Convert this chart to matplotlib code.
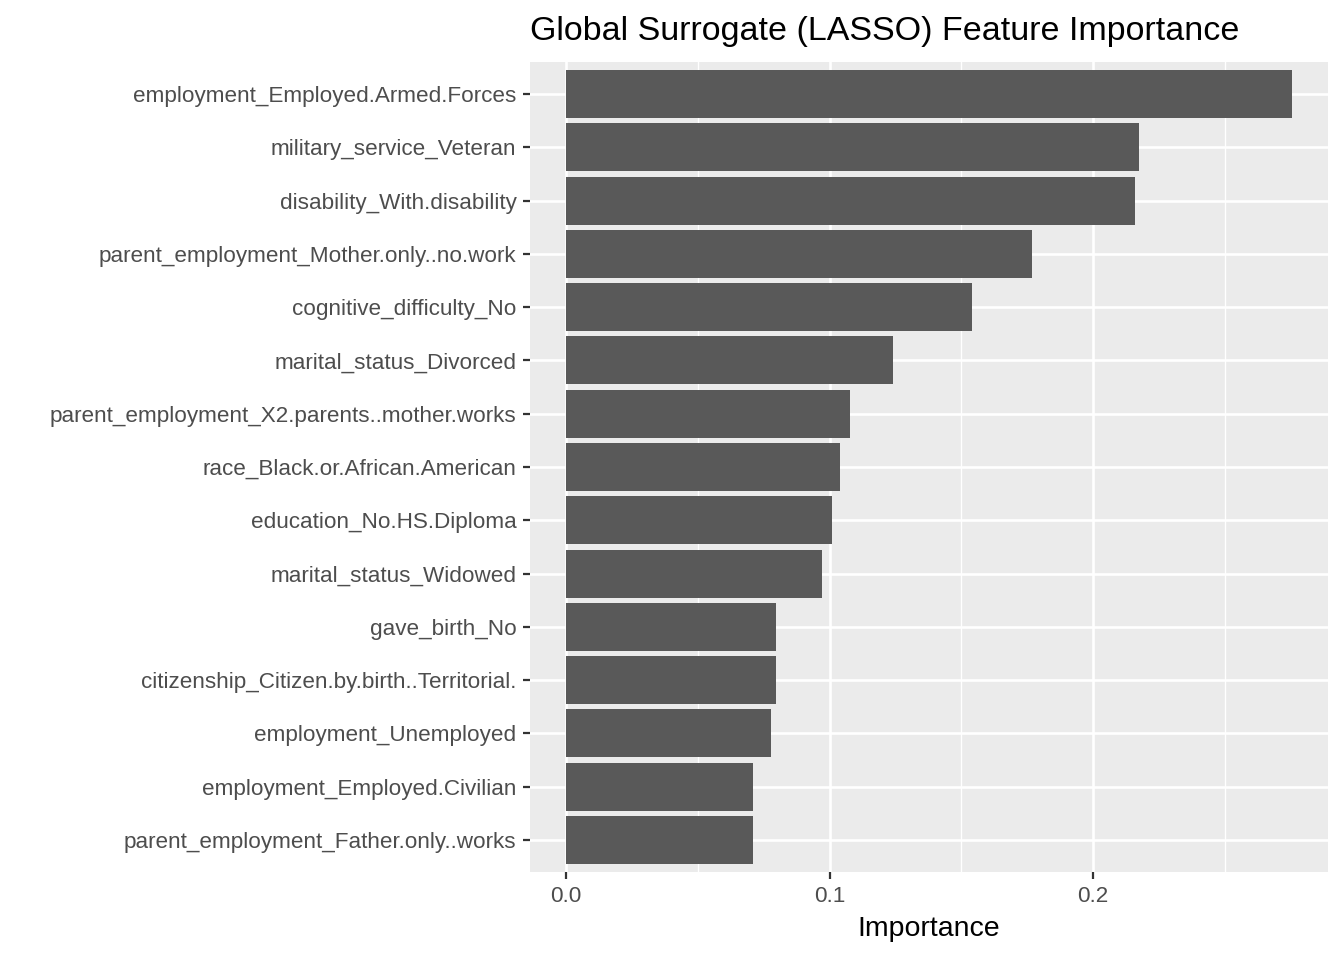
import matplotlib

matplotlib.use("Agg")
import matplotlib.pyplot as plt
from matplotlib.ticker import FixedLocator

# Features ordered top -> bottom, with LASSO importance.
features = [
    "employment_Employed.Armed.Forces",
    "military_service_Veteran",
    "disability_With.disability",
    "parent_employment_Mother.only..no.work",
    "cognitive_difficulty_No",
    "marital_status_Divorced",
    "parent_employment_X2.parents..mother.works",
    "race_Black.or.African.American",
    "education_No.HS.Diploma",
    "marital_status_Widowed",
    "gave_birth_No",
    "citizenship_Citizen.by.birth..Territorial.",
    "employment_Unemployed",
    "employment_Employed.Civilian",
    "parent_employment_Father.only..works",
]
importance = [
    0.2754, 0.2174, 0.2159, 0.1769, 0.1542, 0.1242, 0.1076, 0.1038,
    0.1008, 0.0970, 0.0795, 0.0795, 0.0777, 0.0708, 0.0708,
]
x_ticks = [0.0, 0.1, 0.2]
x_tick_labels = ["0.0", "0.1", "0.2"]
x_minor = [0.05, 0.15, 0.25]

plt.rcParams["font.family"] = ["Liberation Sans", "DejaVu Sans"]

fig = plt.figure(figsize=(13.44, 9.6), dpi=100)
ax = fig.add_axes([530 / 1344, 88 / 960, 798 / 1344, 810 / 960])
ax.set_facecolor("#EBEBEB")

n = len(features)
ypos = list(range(n))[::-1]
ax.barh(ypos, importance, height=0.9, color="#595959", zorder=3)

# ggplot-style expansion: 5% on continuous x, 0.6 units on discrete y
span = max(importance)
ax.set_xlim(-0.05 * span, span * 1.05)
ax.set_ylim(-0.6, n - 1 + 0.6)

ax.xaxis.set_major_locator(FixedLocator(x_ticks))
ax.xaxis.set_minor_locator(FixedLocator(x_minor))
ax.set_xticklabels(x_tick_labels)
ax.set_yticks(ypos)
ax.set_yticklabels(features)

ax.grid(True, which="major", color="white", lw=1.9, zorder=1)
ax.grid(True, which="minor", axis="x", color="white", lw=0.95, zorder=1)
ax.set_axisbelow(True)

for s in ax.spines.values():
    s.set_visible(False)

ax.tick_params(axis="both", which="major", length=5.3, width=1.6,
               color="#333333", labelcolor="#4D4D4D", labelsize=16.2, pad=4.5)
ax.tick_params(axis="both", which="minor", length=0)

ax.set_xlabel("Importance", fontsize=20.5, color="black", labelpad=7)
ax.set_title("Global Surrogate (LASSO) Feature Importance", fontsize=24.5,
             loc="left", color="black", pad=16)

fig.savefig("out.png", dpi=100)
